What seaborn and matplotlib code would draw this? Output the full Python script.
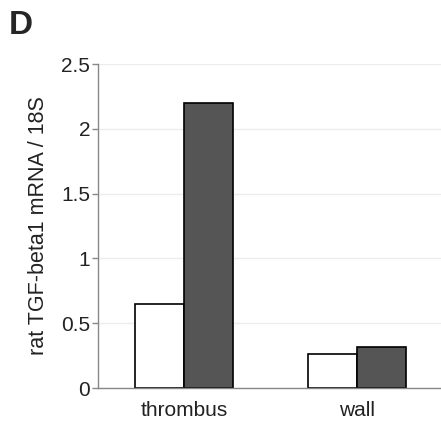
import pandas as pd
import seaborn as sns
import matplotlib.pyplot as plt

# ---------- Data ----------
sites = ["thrombus", "wall"]
series = ["group 1", "group 2"]
values_group1 = [0.65, 0.26]
values_group2 = [2.20, 0.32]
ytick_vals = [0, 0.5, 1, 1.5, 2, 2.5]
ytick_labels = ["0", "0.5", "1", "1.5", "2", "2.5"]

df = pd.DataFrame({
    "site": sites * 2,
    "series": [series[0]] * 2 + [series[1]] * 2,
    "value": values_group1 + values_group2,
})

sns.set_theme(style="white")
plt.rcParams['font.family'] = ['Liberation Sans', 'DejaVu Sans']

fig = plt.figure(figsize=(4.41, 4.23), dpi=100)
ax = fig.add_axes([98 / 441, 35 / 423, 345 / 441, 324 / 423])

sns.barplot(data=df, x="site", y="value", hue="series", order=sites,
            hue_order=series, palette=["white", "#555555"],
            width=0.57, edgecolor="black", linewidth=1.2,
            legend=False, ax=ax)

ax.set_xlim(-0.5, 1.5)
ax.set_ylim(0, 2.5)
ax.set_yticks(ytick_vals)
ax.set_yticklabels(ytick_labels)
ax.yaxis.grid(True, color="#ececec", linewidth=1.0)
ax.set_axisbelow(True)

for side in ["top", "right"]:
    ax.spines[side].set_visible(False)
for side in ["left", "bottom"]:
    ax.spines[side].set_color("#888888")
    ax.spines[side].set_linewidth(1.0)

ax.tick_params(axis="y", left=True, length=4, width=1, color="#888888",
               labelsize=15, pad=1.5, labelcolor="#222222")
ax.tick_params(axis="x", bottom=False, labelsize=15, pad=3, labelcolor="#222222")
ax.set_xlabel("")
ax.set_ylabel("rat TGF-beta1 mRNA / 18S", fontsize=15.5, labelpad=9,
              color="#222222")

fig.text(9 / 441, 1 - 34 / 423, "D", fontsize=24, fontweight="bold")

fig.savefig("out.png", dpi=100)
